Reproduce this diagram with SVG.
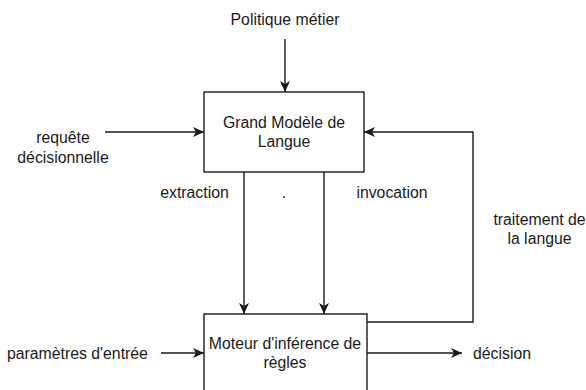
<svg xmlns="http://www.w3.org/2000/svg" width="586" height="390" viewBox="0 0 586 390">
  <style>
    .box { fill: #ffffff; stroke: #1a1a1a; stroke-width: 1.4; }
    .edge { fill: none; stroke: #1a1a1a; stroke-width: 1.4; }
    text { font-family: "Liberation Sans", Arial, Helvetica, sans-serif; font-size: 15.8px; fill: #1a1a1a; }
    .c { text-anchor: middle; }
  </style>
  <defs>
    <marker id="arr" markerUnits="userSpaceOnUse" markerWidth="11" markerHeight="10" viewBox="0 0 11 10" refX="11" refY="5" orient="auto">
      <path d="M0,0 L11,5 L0,10 L3,5 Z" fill="#1a1a1a"/>
    </marker>
  </defs>
  <rect width="586" height="390" fill="#ffffff"/>

  <g id="connectors">
    <path class="edge" d="M285,39 V92" marker-end="url(#arr)"/>
    <path class="edge" d="M105,132 H204" marker-end="url(#arr)"/>
    <path class="edge" d="M367,322 H473 V132 H364" marker-end="url(#arr)"/>
    <path class="edge" d="M244,172 V314" marker-end="url(#arr)"/>
    <path class="edge" d="M324,172 V314" marker-end="url(#arr)"/>
    <path class="edge" d="M161,353 H204" marker-end="url(#arr)"/>
    <path class="edge" d="M367,353 H462" marker-end="url(#arr)"/>
  </g>

  <g id="llm">
    <rect class="box" x="204" y="92" width="160" height="80"/>
    <text class="c" x="284" y="128">Grand Modèle de</text>
    <text class="c" x="284" y="147">Langue</text>
  </g>

  <g id="engine">
    <rect class="box" x="204" y="314" width="163" height="90"/>
    <text class="c" x="285" y="349">Moteur d'inférence de</text>
    <text class="c" x="285" y="368">règles</text>
  </g>

  <g id="labels">
    <text class="c" x="285" y="25">Politique métier</text>
    <text class="c" x="63" y="143">requête</text>
    <text class="c" x="63" y="163">décisionnelle</text>
    <text class="c" x="194.5" y="198">extraction</text>
    <text class="c" x="284" y="198">.</text>
    <text class="c" x="392" y="198">invocation</text>
    <text class="c" x="539.5" y="225">traitement de</text>
    <text class="c" x="539.5" y="244">la langue</text>
    <text x="7" y="358.5">paramètres d'entrée</text>
    <text x="473" y="358.5">décision</text>
  </g>
</svg>
